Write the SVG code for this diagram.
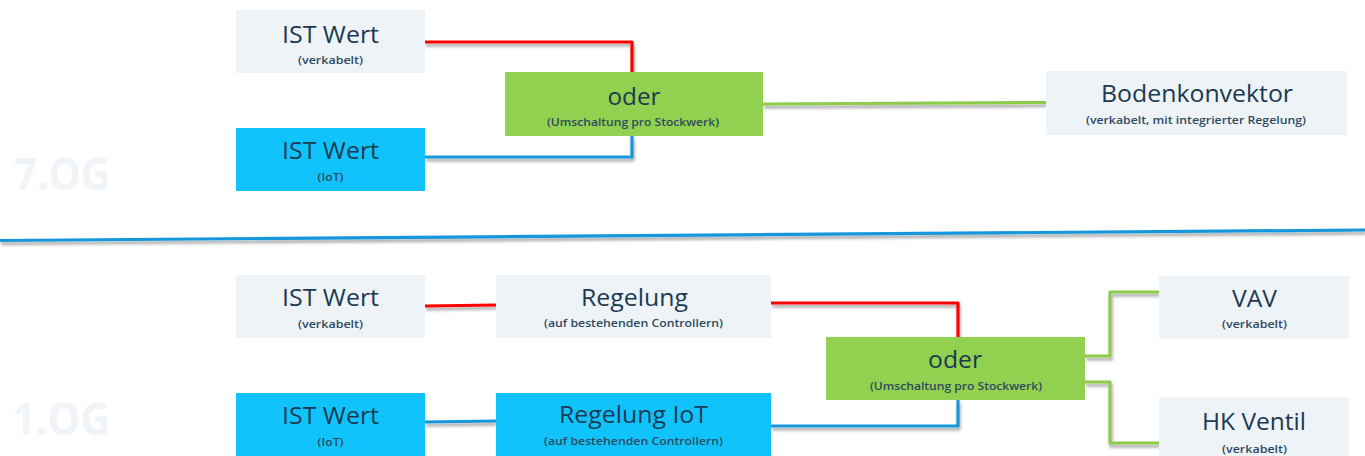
<svg xmlns="http://www.w3.org/2000/svg" width="1365" height="456" viewBox="0 0 1365 456">
<style>
.t{font-family:"Open Sans","Liberation Sans",sans-serif;font-size:24px;fill:#1b3a51;text-anchor:middle}
.s{font-family:"Open Sans","Liberation Sans",sans-serif;font-size:11px;font-weight:600;fill:#2e4a5f;text-anchor:middle}
.fl{font-family:"Open Sans","Liberation Sans",sans-serif;font-weight:bold;font-size:45px;fill:#eff4f9}
.grey{fill:#eef3f8}
.cyan{fill:#10c3fc}
.green{fill:#92d050}
.c{fill:none;stroke-width:3.2;stroke-linejoin:round}
.red{stroke:#ff0000}
.blue{stroke:#1497dc}
.gr{stroke:#8dcb4c}
</style>
<defs>
<filter id="sh" x="-5%" y="-20%" width="110%" height="160%">
<feDropShadow dx="1" dy="3" stdDeviation="1.5" flood-color="#000" flood-opacity="0.35"/>
</filter>
</defs>
<rect width="1365" height="456" fill="#ffffff"/>
<text class="fl" x="14" y="190" textLength="96" lengthAdjust="spacingAndGlyphs">7.OG</text>
<text class="fl" x="12" y="435" textLength="98" lengthAdjust="spacingAndGlyphs">1.OG</text>
<g id="connectors" filter="url(#sh)">
<line class="c blue" x1="0" y1="240.5" x2="1365" y2="230"/>
<polyline class="c red" points="425,42 632,42 632,72"/>
<polyline class="c blue" points="425,157 632,157 632,136"/>
<line class="c gr" x1="763" y1="104" x2="1046" y2="102.5"/>
<line class="c red" x1="425" y1="306" x2="496" y2="305"/>
<polyline class="c red" points="771,303 958,303 958,337"/>
<line class="c blue" x1="425" y1="422" x2="496" y2="421"/>
<polyline class="c blue" points="771,426 958,426 958,400"/>
<polyline class="c gr" points="1085,356 1110,356 1110,292 1159,292"/>
<polyline class="c gr" points="1085,382 1110,382 1110,443 1159,443"/>
</g>
<g id="n1">
<rect class="grey" x="236" y="10" width="189" height="63"/>
<text class="t" x="330.5" y="43" textLength="97" lengthAdjust="spacingAndGlyphs">IST Wert</text>
<text class="s" x="330.5" y="64" textLength="65" lengthAdjust="spacingAndGlyphs">(verkabelt)</text>
</g>
<g id="n2">
<rect class="cyan" x="236" y="128" width="189" height="63"/>
<text class="t" x="330.5" y="159" textLength="97" lengthAdjust="spacingAndGlyphs">IST Wert</text>
<text class="s" x="330.5" y="181" textLength="26" lengthAdjust="spacingAndGlyphs">(IoT)</text>
</g>
<g id="n3">
<rect class="green" x="505" y="72" width="258" height="64"/>
<text class="t" x="634" y="105" textLength="53" lengthAdjust="spacingAndGlyphs">oder</text>
<text class="s" x="633" y="126" textLength="172" lengthAdjust="spacingAndGlyphs">(Umschaltung pro Stockwerk)</text>
</g>
<g id="n4">
<rect class="grey" x="1046" y="71" width="301" height="64"/>
<text class="t" x="1197" y="102" textLength="192" lengthAdjust="spacingAndGlyphs">Bodenkonvektor</text>
<text class="s" x="1196" y="124" textLength="220" lengthAdjust="spacingAndGlyphs">(verkabelt, mit integrierter Regelung)</text>
</g>
<g id="n5">
<rect class="grey" x="236" y="275" width="189" height="63"/>
<text class="t" x="330.5" y="306" textLength="97" lengthAdjust="spacingAndGlyphs">IST Wert</text>
<text class="s" x="330.5" y="328" textLength="65" lengthAdjust="spacingAndGlyphs">(verkabelt)</text>
</g>
<g id="n6">
<rect class="cyan" x="236" y="393" width="189" height="63"/>
<text class="t" x="330.5" y="424" textLength="97" lengthAdjust="spacingAndGlyphs">IST Wert</text>
<text class="s" x="330.5" y="446" textLength="26" lengthAdjust="spacingAndGlyphs">(IoT)</text>
</g>
<g id="n7">
<rect class="grey" x="496" y="275" width="275" height="63"/>
<text class="t" x="634.5" y="306" textLength="107" lengthAdjust="spacingAndGlyphs">Regelung</text>
<text class="s" x="633.5" y="327" textLength="179" lengthAdjust="spacingAndGlyphs">(auf bestehenden Controllern)</text>
</g>
<g id="n8">
<rect class="cyan" x="496" y="393" width="275" height="63"/>
<text class="t" x="633.5" y="423" textLength="149" lengthAdjust="spacingAndGlyphs">Regelung IoT</text>
<text class="s" x="633.5" y="445" textLength="179" lengthAdjust="spacingAndGlyphs">(auf bestehenden Controllern)</text>
</g>
<g id="n9">
<rect class="green" x="826" y="337" width="259" height="63"/>
<text class="t" x="955" y="368" textLength="54" lengthAdjust="spacingAndGlyphs">oder</text>
<text class="s" x="956" y="390" textLength="172" lengthAdjust="spacingAndGlyphs">(Umschaltung pro Stockwerk)</text>
</g>
<g id="n10">
<rect class="grey" x="1159" y="276" width="190" height="63"/>
<text class="t" x="1254.5" y="307" textLength="45" lengthAdjust="spacingAndGlyphs">VAV</text>
<text class="s" x="1254.5" y="328" textLength="65" lengthAdjust="spacingAndGlyphs">(verkabelt)</text>
</g>
<g id="n11">
<rect class="grey" x="1159" y="397" width="190" height="59"/>
<text class="t" x="1254" y="430" textLength="104" lengthAdjust="spacingAndGlyphs">HK Ventil</text>
<text class="s" x="1254.5" y="453" textLength="65" lengthAdjust="spacingAndGlyphs">(verkabelt)</text>
</g>
</svg>
